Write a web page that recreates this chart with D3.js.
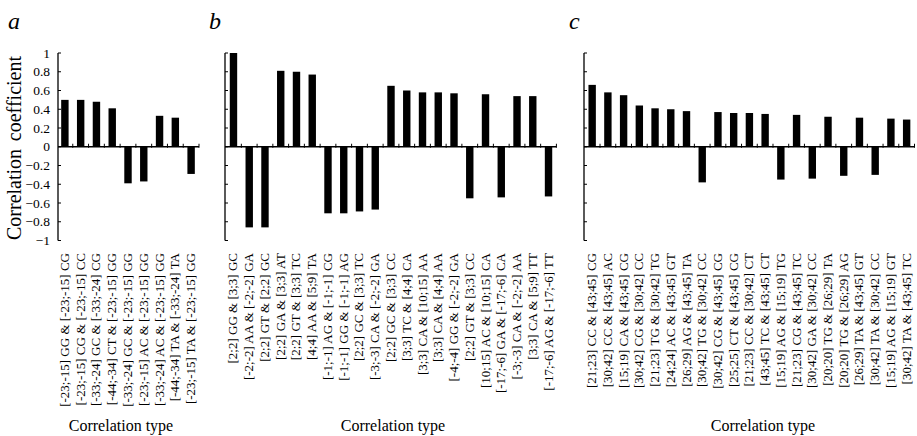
<!DOCTYPE html>
<html>
<head>
<meta charset="utf-8">
<style>
body { margin: 0; background: #fff; }
svg text { font-family: "Liberation Serif", "DejaVu Serif", serif; fill: #000; }
</style>
</head>
<body>
<svg width="917" height="436" font-family="Liberation Serif, serif"></svg>
<script src="https://d3js.org/d3.v7.min.js"></script>
<script>

// panel a
var labelsA = ["[-23;-15] GG & [-23;-15] CG", "[-23;-15] CG & [-23;-15] CC", "[-33;-24] GC & [-33;-24] CG",
  "[-44;-34] CT & [-23;-15] GG", "[-33;-24] GC & [-23;-15] GG", "[-23;-15] AC & [-23;-15] GG",
  "[-33;-24] AC & [-23;-15] GG", "[-44;-34] TA & [-33;-24] TA", "[-23;-15] TA & [-23;-15] GG"];
var valuesA = [0.50, 0.50, 0.48, 0.41, -0.39, -0.37, 0.33, 0.31, -0.29];

// panel b
var labelsB = ["[2;2] GG & [3;3] GC", "[-2;-2] AA & [-2;-2] GA", "[2;2] GT & [2;2] GC", "[2;2] GA & [3;3] AT",
  "[2;2] GT & [3;3] TC", "[4;4] AA & [5;9] TA", "[-1;-1] AG & [-1;-1] CG", "[-1;-1] GG & [-1;-1] AG",
  "[2;2] GC & [3;3] TC", "[-3;-3] CA & [-2;-2] GA", "[2;2] GC & [3;3] CC", "[3;3] TC & [4;4] CA",
  "[3;3] CA & [10;15] AA", "[3;3] CA & [4;4] AA", "[-4;-4] GG & [-2;-2] GA", "[2;2] GT & [3;3] CC",
  "[10;15] AC & [10;15] CA", "[-17;-6] GA & [-17;-6] CA", "[-3;-3] CA & [-2;-2] AA", "[3;3] CA & [5;9] TT",
  "[-17;-6] AG & [-17;-6] TT"];
var valuesB = [1.00, -0.86, -0.86, 0.81, 0.80, 0.77, -0.71, -0.71, -0.69, -0.67,
  0.65, 0.60, 0.58, 0.58, 0.57, -0.55, 0.56, -0.54, 0.54, 0.54, -0.53];

// panel c
var labelsC = ["[21;23] CC & [43;45] CG", "[30;42] CC & [43;45] AC", "[15;19] CA & [43;45] CG",
  "[30;42] CG & [30;42] CC", "[21;23] TG & [30;42] TG", "[24;24] AC & [43;45] GT", "[26;29] AG & [43;45] TA",
  "[30;42] TG & [30;42] CC", "[30;42] CG & [43;45] CG", "[25;25] CT & [43;45] CG", "[21;23] CC & [30;42] CT",
  "[43;45] TC & [43;45] CT", "[15;19] AG & [15;19] TG", "[21;23] CG & [43;45] TC", "[30;42] GA & [30;42] CC",
  "[20;20] TG & [26;29] TA", "[20;20] TG & [26;29] AG", "[26;29] TA & [43;45] GT", "[30;42] TA & [30;42] CC",
  "[15;19] AG & [15;19] GT", "[30;42] TA & [43;45] TC"];
var valuesC = [0.66, 0.58, 0.55, 0.44, 0.41, 0.40, 0.38, -0.38, 0.37, 0.36,
  0.36, 0.35, -0.35, 0.34, -0.34, 0.32, -0.31, 0.31, -0.30, 0.30, 0.29];

var yTicks = [1, 0.8, 0.6, 0.4, 0.2, 0, -0.2, -0.4, -0.6, -0.8, -1];

var svg = d3.select("svg");

var y = d3.scaleLinear().domain([-1, 1]).range([240.5, 53]);

function drawPanel(letter, labels, values, x0, x1, axisX, letterX, titleX, showTickLabels) {
  var g = svg.append("g");

  var x = d3.scaleBand()
      .domain(labels)
      .range([x0, x1]);
  var bw = x.bandwidth() * 0.47;

  // y axis line + inward ticks
  g.append("line")
      .attr("x1", axisX).attr("x2", axisX)
      .attr("y1", y(1)).attr("y2", y(-1))
      .attr("stroke", "#000").attr("stroke-width", 1.3);
  g.selectAll(".yt").data(yTicks).enter().append("line")
      .attr("x1", axisX).attr("x2", axisX + 3)
      .attr("y1", function(d) { return y(d); }).attr("y2", function(d) { return y(d); })
      .attr("stroke", "#000").attr("stroke-width", 1);

  if (showTickLabels) {
    g.selectAll(".yl").data(yTicks).enter().append("text")
        .attr("x", axisX - 8)
        .attr("y", function(d) { return y(d); })
        .attr("dy", "0.35em")
        .attr("text-anchor", "end")
        .attr("font-size", 13.5)
        .text(function(d) { return d3.format("")(d); });
  }

  // bars
  g.selectAll("rect").data(values).enter().append("rect")
      .attr("x", function(d, i) { return x(labels[i]) + (x.bandwidth() - bw) / 2; })
      .attr("y", function(d) { return y(Math.max(0, d)); })
      .attr("width", bw)
      .attr("height", function(d) { return Math.abs(y(d) - y(0)); })
      .attr("fill", "#000");

  // x axis line + small ticks between bars
  g.append("line")
      .attr("x1", axisX).attr("x2", x1)
      .attr("y1", y(0)).attr("y2", y(0))
      .attr("stroke", "#000").attr("stroke-width", 1.3);
  g.selectAll(".xt").data(labels).enter().append("line")
      .attr("x1", function(d) { return x(d) + x.bandwidth(); })
      .attr("x2", function(d) { return x(d) + x.bandwidth(); })
      .attr("y1", y(0) - 3).attr("y2", y(0) + 1)
      .attr("stroke", "#000").attr("stroke-width", 1);

  // category labels, rotated
  g.selectAll(".xl").data(labels).enter().append("text")
      .attr("transform", function(d) {
        return "translate(" + (x(d) + x.bandwidth() / 2 + 4) + ",253) rotate(-90)";
      })
      .attr("text-anchor", "end")
      .attr("font-size", 13)
      .text(function(d) { return d; });

  g.append("text")
      .attr("x", titleX).attr("y", 431)
      .attr("text-anchor", "middle")
      .attr("font-size", 16)
      .text("Correlation type");

  g.append("text")
      .attr("x", letterX).attr("y", 29)
      .attr("font-size", 24)
      .attr("font-style", "italic")
      .text(letter);
}

drawPanel("a", labelsA, valuesA, 57, 199, 58, 8, 121, true);
drawPanel("b", labelsB, valuesB, 225.6, 556.4, 225, 209, 393, false);
drawPanel("c", labelsC, valuesC, 584.3, 914.5, 584, 569, 763, false);

// y-axis title
svg.append("text")
    .attr("transform", "translate(21,240) rotate(-90)")
    .attr("text-anchor", "start")
    .attr("font-size", 20)
    .text("Correlation");
svg.append("text")
    .attr("transform", "translate(21,56) rotate(-90)")
    .attr("text-anchor", "end")
    .attr("font-size", 20)
    .text("coefficient");

</script>
</body>
</html>
